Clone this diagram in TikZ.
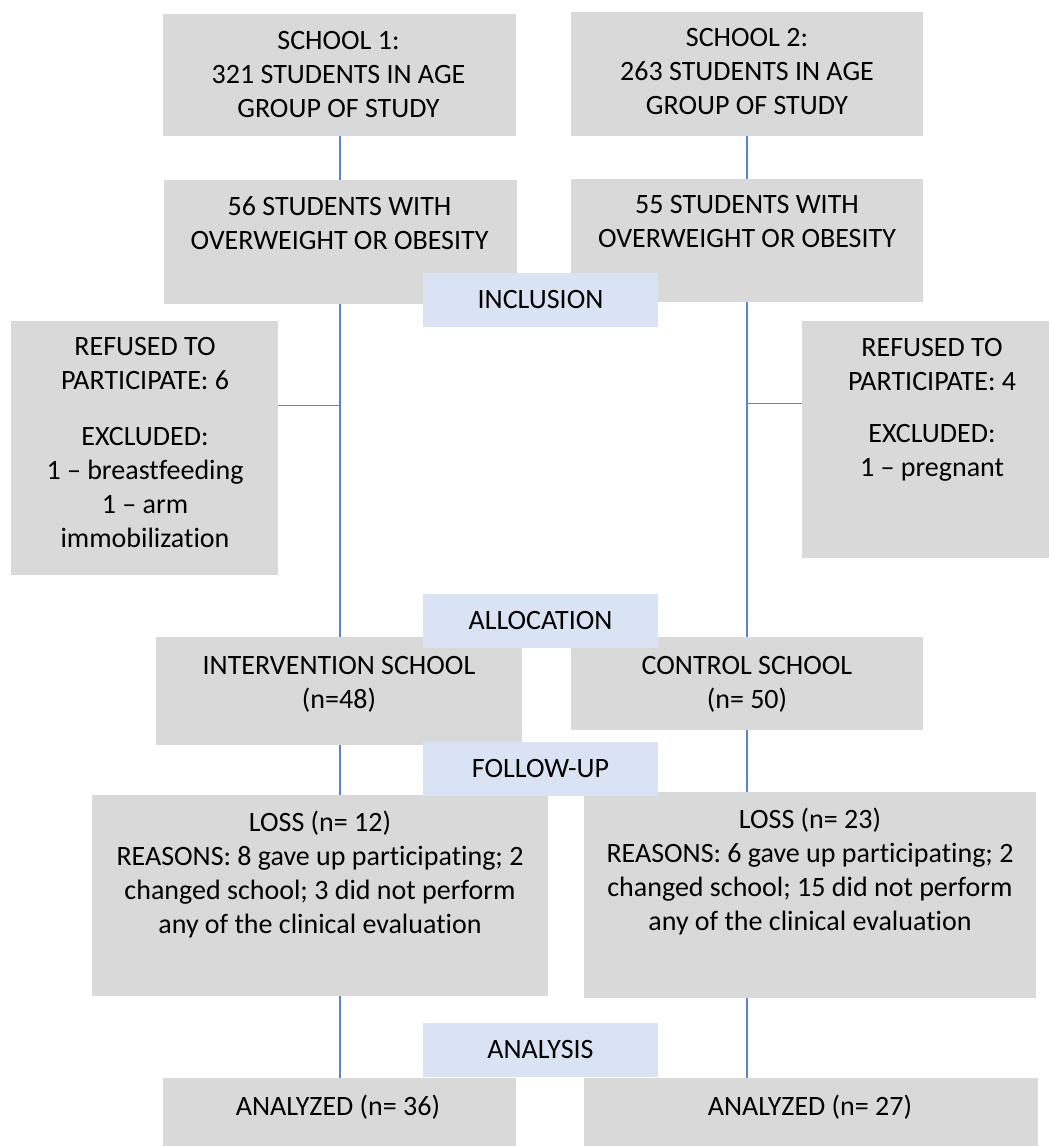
\documentclass[tikz,border=0pt]{standalone}
\usepackage{fontspec}
\setmainfont{Carlito}[Ligatures={TeX,NoCommon}]
\usepackage{tikz}

\definecolor{boxgrey}{HTML}{D9D9D9}
\definecolor{stageblue}{HTML}{DAE3F3}
\definecolor{linkblue}{HTML}{5B84D0}

\tikzset{
  greybox/.style={rectangle, fill=boxgrey, inner sep=0pt},
  stagebox/.style={rectangle, fill=stageblue, inner sep=0pt, minimum width=235pt, minimum height=54pt, font=\fontsize{28}{34}\selectfont},
  boxtext/.style={align=center, inner sep=0pt, font=\fontsize{28}{34}\selectfont},
  link/.style={linkblue, line width=1.3pt},
}

\begin{document}
\begin{tikzpicture}[x=1pt, y=-1pt]

\useasboundingbox (0,0) rectangle (1049,1146);

% boxes
\node[greybox, minimum width=353pt, minimum height=122pt] (school1) at (339,75) {};
\node[greybox, minimum width=352pt, minimum height=124pt] (school2) at (747,74) {};
\node[greybox, minimum width=353pt, minimum height=124pt] (over1) at (340,242) {};
\node[greybox, minimum width=352pt, minimum height=123pt] (over2) at (747,240.5) {};
\node[greybox, minimum width=267pt, minimum height=254pt] (refused1) at (144.5,448) {};
\node[greybox, minimum width=247pt, minimum height=237pt] (refused2) at (925.5,439.5) {};
\node[greybox, minimum width=366pt, minimum height=108pt] (interv) at (339,691) {};
\node[greybox, minimum width=352pt, minimum height=93pt] (control) at (747,683.5) {};
\node[greybox, minimum width=456pt, minimum height=201pt] (loss1) at (320,895.5) {};
\node[greybox, minimum width=452pt, minimum height=206pt] (loss2) at (810,895) {};
\node[greybox, minimum width=353pt, minimum height=68pt] (anal1) at (339.5,1112) {};
\node[greybox, minimum width=454pt, minimum height=68pt] (anal2) at (811,1112) {};

% texts
\node[boxtext] (school1-txt) at (338.5,74.5) {SCHOOL 1:\\321 STUDENTS IN AGE\\GROUP OF STUDY};
\node[boxtext] (school2-txt) at (747,72) {SCHOOL 2:\\263 STUDENTS IN AGE\\GROUP OF STUDY};
\node[boxtext] (over1-txt) at (339.5,223.5) {56 STUDENTS WITH\\OVERWEIGHT OR OBESITY};
\node[boxtext] (over2-txt) at (747,221.5) {55 STUDENTS WITH\\OVERWEIGHT OR OBESITY};
\node[boxtext] (refused1-txt) at (145,442.5) {REFUSED TO\\PARTICIPATE: 6\\[22pt]EXCLUDED:\\1 – breastfeeding\\1 – arm\\immobilization};
\node[boxtext] (refused2-txt) at (932,409.5) {REFUSED TO\\PARTICIPATE: 4\\[18pt]EXCLUDED:\\1 – pregnant};
\node[boxtext] (interv-txt) at (339,684) {INTERVENTION SCHOOL\\(n=48)};
\node[boxtext] (control-txt) at (747,684) {CONTROL SCHOOL\\(n= 50)};
\node[boxtext] (loss1-txt) at (320,875) {LOSS (n= 12)\\REASONS: 8 gave up participating; 2\\changed school; 3 did not perform\\any of the clinical evaluation};
\node[boxtext] (loss2-txt) at (810,871.5) {LOSS (n= 23)\\REASONS: 6 gave up participating; 2\\changed school; 15 did not perform\\any of the clinical evaluation};
\node[boxtext, anchor=base] (anal1-txt) at (338,1115.5) {ANALYZED (n= 36)};
\node[boxtext, anchor=base] (anal2-txt) at (810,1115.5) {ANALYZED (n= 27)};

% connectors
\path (over1.south) ++(0,101) coordinate (split1);
\path (over2.south) ++(0,101) coordinate (split2);

\draw[link] (over1.north |- school1.south) -- (over1.north);
\draw[link] (school2.south) -- (school2.south |- over2.north);
\draw[link] (over1.south) -- (over1.south |- interv.north);
\draw[link] (over2.south) -- (over2.south |- control.north);
\draw[link] (split1) -- (split1 -| refused1.east);
\draw[link] (split2) -- (split2 -| refused2.west);
\draw[link] (over1.south |- interv.south) -- (over1.south |- loss1.north);
\draw[link] (control.south) -- (control.south |- loss2.north);
\draw[link] (over1.south |- loss1.south) -- (over1.south |- anal1.north);
\draw[link] (control.south |- loss2.south) -- (control.south |- anal2.north);

% stages
\node[stagebox] (inclusion) at (540.5,300) {INCLUSION};
\node[stagebox] (allocation) at (540.5,620.5) {ALLOCATION};
\node[stagebox] (followup) at (540.5,768.5) {FOLLOW-UP};
\node[stagebox] (analysis) at (540.5,1049.5) {ANALYSIS};

\end{tikzpicture}
\end{document}
